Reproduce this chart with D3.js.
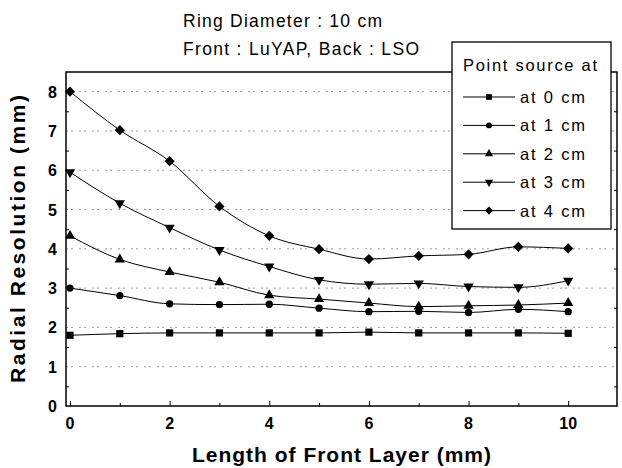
<!DOCTYPE html>
<html>
<head>
<meta charset="utf-8">
<title>Radial Resolution</title>
<script src="https://cdn.jsdelivr.net/npm/d3@7/dist/d3.min.js"></script>
<style>
  *{ margin:0; padding:0; }
  body{ background:#fff; }
  svg text{ font-family:"Liberation Sans", Arial, sans-serif; fill:#000; }
  .tick-label{ font-family:"Liberation Sans Narrow","Liberation Sans",Arial,sans-serif; font-weight:bold; font-size:16px; }
</style>
</head>
<body>
<div id="chart"></div>
<script>
// front layer length (mm)
var lengths = [0,1,2,3,4,5,6,7,8,9,10];
var seriesNames = ["at 0 cm","at 1 cm","at 2 cm","at 3 cm","at 4 cm"];
var at0 = [1.80,1.84,1.86,1.86,1.86,1.86,1.88,1.86,1.86,1.86,1.85];
var at1 = [3.00,2.81,2.60,2.58,2.59,2.49,2.40,2.41,2.38,2.46,2.40];
var at2 = [4.33,3.73,3.41,3.15,2.82,2.72,2.62,2.53,2.55,2.57,2.62];
var at3 = [5.95,5.16,4.54,3.97,3.55,3.21,3.10,3.12,3.04,3.02,3.19];
var at4 = [8.00,7.02,6.23,5.08,4.33,3.99,3.74,3.82,3.86,4.05,4.01];
var yTicks = [0,1,2,3,4,5,6,7,8];
var xTicks = [0,2,4,6,8,10];
var titleLines = ["Ring Diameter : 10 cm","Front : LuYAP, Back : LSO"];

var allSeries = [at0,at1,at2,at3,at4];

var W = 622, H = 468;
var pL = 66, pR = 617, pT = 72, pB = 406;

var svg = d3.select("#chart").append("svg")
            .attr("width",W).attr("height",H);

var x = d3.scaleLinear().domain([-0.08,10.98]).range([pL,pR]);
var y = d3.scaleLinear().domain([0,8.5]).range([pB,pT]);

// diamond like origin's (equal diagonals)
var diamond = {
  draw:function(ctx,size){
    var r = Math.sqrt(size/2);
    ctx.moveTo(0,-r); ctx.lineTo(r,0); ctx.lineTo(0,r); ctx.lineTo(-r,0); ctx.closePath();
  }
};
var triDown = {
  draw:function(ctx,size){
    var s = Math.sqrt(size*4/Math.sqrt(3)), h = s*Math.sqrt(3)/2;
    ctx.moveTo(-s/2,-h/3); ctx.lineTo(s/2,-h/3); ctx.lineTo(0,2*h/3); ctx.closePath();
  }
};
var symbols = [
  d3.symbol().type(d3.symbolSquare).size(52),
  d3.symbol().type(d3.symbolCircle).size(42),
  d3.symbol().type(d3.symbolTriangle).size(46),
  d3.symbol().type(triDown).size(46),
  d3.symbol().type(diamond).size(52)
];

// dotted grid
svg.append("g").selectAll("line").data(yTicks.slice(1)).enter().append("line")
   .attr("x1",pL).attr("x2",pR)
   .attr("y1",function(d){return y(d);}).attr("y2",function(d){return y(d);})
   .attr("stroke","#999").attr("stroke-width",1)
   .attr("stroke-dasharray","2,3,2,6");

// axes, ticks inward
var yAxisL = d3.axisRight(y).tickValues(d3.range(0.5,8.5,1)).tickSize(3).tickFormat("");
var yAxisR = d3.axisLeft(y).tickValues(d3.range(0.5,8.5,1)).tickSize(3).tickFormat("");
var xAxis = d3.axisTop(x).tickValues(lengths).tickSize(4).tickFormat("");
var gl = svg.append("g").attr("transform","translate("+pL+",0)").call(yAxisL);
var gr = svg.append("g").attr("transform","translate("+pR+",0)").call(yAxisR);
var gx = svg.append("g").attr("transform","translate(0,"+pB+")").call(xAxis);
gx.selectAll(".tick line").attr("y2",function(d){return d%2===0 ? -5 : -3;});
[gl,gr,gx].forEach(function(g){ g.select(".domain").remove(); g.selectAll(".tick line").attr("stroke","#000"); });

svg.append("rect").attr("x",pL).attr("y",pT)
   .attr("width",pR-pL).attr("height",pB-pT)
   .attr("fill","none").attr("stroke","#000").attr("stroke-width",1.5);

// tick labels
svg.append("g").selectAll("text").data(yTicks).enter().append("text")
   .attr("class","tick-label")
   .attr("x",pL-9).attr("y",function(d){return y(d)+6;})
   .attr("text-anchor","end").text(function(d){return d;});
svg.append("g").selectAll("text").data(xTicks).enter().append("text")
   .attr("class","tick-label")
   .attr("x",function(d){return x(d);}).attr("y",429)
   .attr("text-anchor","middle").text(function(d){return d;});

// series
var line = d3.line().x(function(d,i){return x(lengths[i]);}).y(function(d){return y(d);})
             .curve(d3.curveMonotoneX);
allSeries.forEach(function(vals,k){
  svg.append("path").datum(vals).attr("d",line)
     .attr("fill","none").attr("stroke","#000").attr("stroke-width",1);
  svg.append("g").selectAll("path").data(vals).enter().append("path")
     .attr("d",symbols[k])
     .attr("transform",function(d,i){return "translate("+x(lengths[i])+","+y(d)+")";})
     .attr("fill","#000");
});

// titles
svg.append("text").attr("x",183).attr("y",27).attr("font-size",17.5)
   .attr("textLength",199).attr("lengthAdjust","spacing").text(titleLines[0]);
svg.append("text").attr("x",183).attr("y",55).attr("font-size",17.5)
   .attr("textLength",236).attr("lengthAdjust","spacing").text(titleLines[1]);

svg.append("text").attr("x",(pL+pR)/2).attr("y",462)
   .attr("text-anchor","middle").attr("font-size",21).attr("font-weight","bold")
   .attr("textLength",299).attr("lengthAdjust","spacing")
   .text("Length of Front Layer (mm)");
svg.append("text").attr("transform","translate(25,"+((pT+pB)/2)+") rotate(-90)")
   .attr("text-anchor","middle").attr("font-size",21).attr("font-weight","bold")
   .attr("textLength",288).attr("lengthAdjust","spacing")
   .text("Radial Resolution (mm)");

// legend
var lg = svg.append("g");
lg.append("rect").attr("x",452).attr("y",42).attr("width",159).attr("height",187)
  .attr("fill","#fff").attr("stroke","#000").attr("stroke-width",1.3);
lg.append("text").attr("x",463).attr("y",71).attr("font-size",16.5)
  .attr("textLength",134).attr("lengthAdjust","spacing").text("Point source at");
seriesNames.forEach(function(name,k){
  var cy = 97 + k*28.4;
  lg.append("line").attr("x1",463).attr("x2",515).attr("y1",cy).attr("y2",cy)
    .attr("stroke","#000").attr("stroke-width",1);
  lg.append("path").attr("d",symbols[k]).attr("transform","translate(489,"+cy+") scale(0.8)")
    .attr("fill","#000");
  lg.append("text").attr("x",520).attr("y",cy+6).attr("font-size",16.5)
    .attr("textLength",65).attr("lengthAdjust","spacing").text(name);
});
</script>
</body>
</html>
